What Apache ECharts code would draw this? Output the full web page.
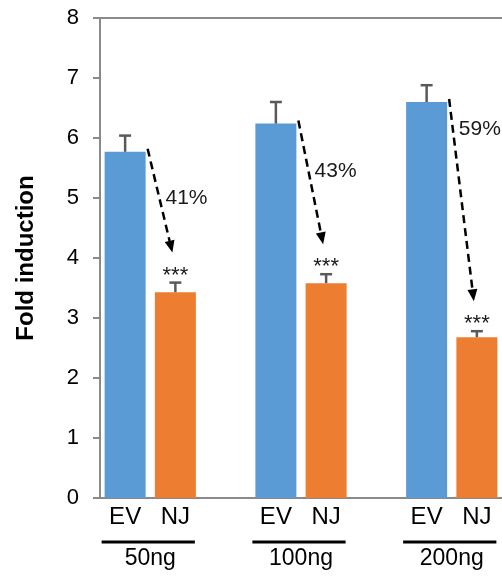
<!DOCTYPE html>
<html>
<head>
<meta charset="utf-8">
<script src="https://cdn.jsdelivr.net/npm/echarts@6/dist/echarts.min.js"></script>
<style>
html,body{margin:0;padding:0;background:#fff;}
#chart{width:502px;height:576px;}
</style>
</head>
<body>
<div id="chart"></div>
<script>
// ---- data ----
const groups = ['50ng', '100ng', '200ng'];
const conditions = ['EV', 'NJ'];
const evValues = [5.77, 6.24, 6.60];
const evErrors = [0.27, 0.36, 0.28];
const njValues = [3.43, 3.58, 2.68];
const njErrors = [0.16, 0.15, 0.10];
const reductions = ['41%', '43%', '59%'];
const significance = ['***', '***', '***'];
const yMin = 0, yMax = 8, yStep = 1;

// ---- styles ----
const FONT = 'Liberation Sans, Arial, sans-serif';
const BAR_W = 41;
const AXIS_COLOR = '#8a8a8a';
const ERR_COLOR = '#595959';
const labelAt = [0.48, 0.41, 0.15];   // where the % label sits along each arrow

// ---- build slots (EV, NJ, gap, EV, NJ, gap, EV, NJ) ----
const slots = [];
const evSlot = [], njSlot = [];
groups.forEach((g, i) => {
  evSlot.push(slots.length); slots.push(conditions[0]);
  njSlot.push(slots.length); slots.push(conditions[1]);
  if (i < groups.length - 1) slots.push('');
});
const evData = slots.map(() => '-');
const njData = slots.map(() => '-');
groups.forEach((g, i) => { evData[evSlot[i]] = evValues[i]; njData[njSlot[i]] = njValues[i]; });

const errData = [];
groups.forEach((g, i) => {
  errData.push([evSlot[i], evValues[i], evValues[i] + evErrors[i]]);
  errData.push([njSlot[i], njValues[i], njValues[i] + njErrors[i]]);
});
const arrowData = groups.map((g, i) => [evSlot[i], evValues[i], njSlot[i], njValues[i] + njErrors[i]]);
const groupData = groups.map((g, i) => [evSlot[i], njSlot[i]]);

const chart = echarts.init(document.getElementById('chart'), null, {renderer: 'canvas'});
chart.setOption({
  animation: false,
  backgroundColor: '#fff',
  grid: {left: 100, right: -2, top: 18, bottom: 78, containLabel: false},
  xAxis: [{
    type: 'category', data: slots, position: 'bottom',
    axisLine: {show: true, lineStyle: {color: AXIS_COLOR, width: 2}},
    axisTick: {show: false},
    axisLabel: {color: '#000', fontFamily: FONT, fontSize: 24, margin: 7, interval: 0}
  }, {
    type: 'category', data: slots, position: 'top',
    axisLine: {show: true, lineStyle: {color: AXIS_COLOR, width: 2}},
    axisTick: {show: false}, axisLabel: {show: false}
  }],
  yAxis: {
    type: 'value', min: yMin, max: yMax, interval: yStep,
    name: 'Fold induction', nameLocation: 'middle', nameRotate: 90, nameGap: 62,
    nameTextStyle: {color: '#000', fontFamily: FONT, fontSize: 24, fontWeight: 'bold'},
    axisLine: {show: true, lineStyle: {color: AXIS_COLOR, width: 2}},
    axisTick: {show: true, inside: false, length: 7, lineStyle: {color: AXIS_COLOR, width: 2}},
    axisLabel: {color: '#000', fontFamily: FONT, fontSize: 22, margin: 21},
    splitLine: {show: false}
  },
  series: [{
    name: 'EV', type: 'bar', data: evData, barWidth: BAR_W, barGap: '-100%',
    itemStyle: {color: '#5B9BD5'}
  }, {
    name: 'NJ', type: 'bar', data: njData, barWidth: BAR_W, barGap: '-100%',
    itemStyle: {color: '#ED7D31'}
  }, {
    name: 'err', type: 'custom', data: errData, z: 5,
    renderItem: function (params, api) {
      const p0 = api.coord([api.value(0), api.value(1)]);
      const p1 = api.coord([api.value(0), api.value(2)]);
      const st = {stroke: ERR_COLOR, lineWidth: 2.5};
      return {type: 'group', children: [
        {type: 'line', shape: {x1: p0[0], y1: p0[1], x2: p1[0], y2: p1[1]}, style: st},
        {type: 'line', shape: {x1: p1[0] - 6, y1: p1[1], x2: p1[0] + 6, y2: p1[1]}, style: st}
      ]};
    }
  }, {
    name: 'arrows', type: 'custom', data: arrowData, z: 6,
    renderItem: function (params, api) {
      const i = params.dataIndex;
      const s = api.coord([api.value(0), api.value(1)]);
      const t = api.coord([api.value(2), api.value(3)]);
      const x1 = s[0] + BAR_W / 2 + 2, y1 = s[1] - 3;
      const x2 = t[0] - 3, y2 = t[1] - 30;
      const dx = x2 - x1, dy = y2 - y1, len = Math.sqrt(dx * dx + dy * dy);
      const ux = dx / len, uy = dy / len;
      const headL = 12, headW = 5;
      const bx = x2 - ux * headL, by = y2 - uy * headL;
      const f = labelAt[i];
      const lx = x1 + dx * f, ly = y1 + dy * f;
      const sig = api.coord([api.value(2), api.value(3)]);
      return {type: 'group', children: [
        {type: 'line', shape: {x1: x1, y1: y1, x2: bx, y2: by},
         style: {stroke: '#000', lineWidth: 2.5, lineDash: [8, 5]}},
        {type: 'polygon', shape: {points: [[x2, y2], [bx - uy * headW, by + ux * headW], [bx + uy * headW, by - ux * headW]]},
         style: {fill: '#000'}},
        {type: 'text', x: lx + 6, y: ly,
         style: {text: reductions[i], fill: '#1a1a1a', font: '21px ' + FONT, align: 'left', verticalAlign: 'middle'}},
        {type: 'text', x: sig[0], y: sig[1] - 18,
         style: {text: significance[i], fill: '#1a1a1a', font: '22px ' + FONT, align: 'center', verticalAlign: 'top'}}
      ]};
    }
  }, {
    name: 'groups', type: 'custom', data: groupData, z: 6, clip: false,
    renderItem: function (params, api) {
      const i = params.dataIndex;
      const a = api.coord([api.value(0), 0]);
      const b = api.coord([api.value(1), 0]);
      const y = a[1] + 44;
      return {type: 'group', children: [
        {type: 'line', shape: {x1: a[0] - BAR_W / 2 - 3, y1: y, x2: b[0] + BAR_W / 2 - 1, y2: y},
         style: {stroke: '#000', lineWidth: 3}},
        {type: 'text', x: (a[0] + b[0]) / 2, y: a[1] + 61,
         style: {text: groups[i], fill: '#000', font: '23px ' + FONT, align: 'center', verticalAlign: 'middle'}}
      ]};
    }
  }]
});
</script>
</body>
</html>
